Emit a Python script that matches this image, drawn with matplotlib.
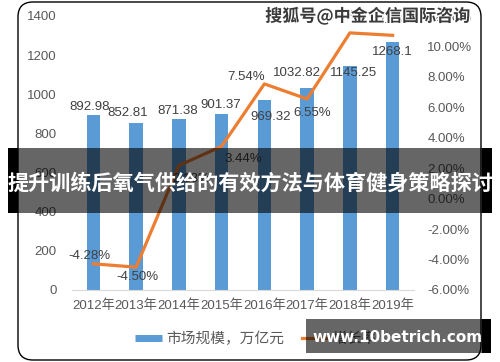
import matplotlib
matplotlib.use("Agg")
import matplotlib.pyplot as plt
from matplotlib.patches import FancyBboxPatch, Rectangle
from matplotlib.lines import Line2D
import matplotlib.patheffects as pe

# ---- data ----
years = ["2012年", "2013年", "2014年", "2015年", "2016年", "2017年", "2018年", "2019年"]
market = [892.98, 852.81, 871.38, 901.37, 969.32, 1032.82, 1145.25, 1268.1]
growth = [-4.28, -4.50, 2.18, 3.44, 7.54, 6.55, 10.89, 10.73]
market_labels = ["892.98", "852.81", "871.38", "901.37", "969.32", "1032.82", "1145.25", "1268.1"]
growth_labels = ["-4.28%", "-4.50%", "2.18%", "3.44%", "7.54%", "6.55%", "10.89%", "10.73%"]
left_ticks = [0, 200, 400, 600, 800, 1000, 1200, 1400]
right_ticks = [-6, -4, -2, 0, 2, 4, 6, 8, 10, 12]
legend_names = ["市场规模，万亿元", "增长率"]
title_text = "提升训练后氧气供给的有效方法与体育健身策略探讨"
watermark_top = "搜狐号@中金企信国际咨询"
watermark_bottom = "www.10betrich.com"

# label offsets (pixels) - styling only
bar_off = [(-4, 8), (-8, 10), (-1, 8), (-1, 9), (6, -17), (-10, 15), (4, -7), (0, -10)]
line_off = [(-4, 8), (1, -10), (12, -14), (22, -13), (-18, 7), (5, -14), (-10, 17), (0, 15)]

NUM = ["Liberation Sans", "Noto Sans CJK SC", "DejaVu Sans"]
CJK = ["Noto Sans CJK SC", "DejaVu Sans"]
BLUE = "#5b9bd5"
ORANGE = "#ed7d31"
TXT = "#595959"
LBL = "#404040"

W, H = 500, 362
fig = plt.figure(figsize=(W / 100, H / 100), dpi=100)
fig.patch.set_facecolor("white")

def px(x0, y0, x1, y1):
    return (x0 / W, 1 - y1 / H, (x1 - x0) / W, (y1 - y0) / H)

ax = fig.add_axes([72 / W, 1 - 290 / H, (414 - 72) / W, (290 - 16) / H])
ax2 = ax.twinx()

x = list(range(len(years)))
ax.bar(x, market, width=0.31, color=BLUE, zorder=2)
ax.set_xlim(-0.5, len(years) - 0.5)
ax.set_ylim(0, 1400)
ax.set_yticks(left_ticks)
ax.set_yticklabels([str(t) for t in left_ticks])
ax.set_xticks(x)
ax.set_xticklabels(years)
for lab in ax.get_xticklabels() + ax.get_yticklabels():
    lab.set_fontfamily(NUM)
    lab.set_fontsize(9.5)
    lab.set_color(TXT)
ax.tick_params(axis="y", length=0, pad=11)
ax.tick_params(axis="x", length=0, pad=7)
for s in ["left", "right", "top"]:
    ax.spines[s].set_visible(False)
    ax2.spines[s].set_visible(False)
ax.spines["bottom"].set_color("#d9d9d9")
ax2.spines["bottom"].set_visible(False)

ax2.plot(x, growth, color=ORANGE, lw=2.3, zorder=3)
ax2.set_ylim(-6, 12)
ax2.set_yticks(right_ticks)
ax2.set_yticklabels([f"{t:.2f}%" for t in right_ticks])
for lab in ax2.get_yticklabels():
    lab.set_fontfamily(NUM)
    lab.set_fontsize(9.5)
    lab.set_color(TXT)
ax2.tick_params(axis="y", length=0, pad=9.5)

for i, (v, t) in enumerate(zip(market, market_labels)):
    ax.annotate(t, (x[i], v), xytext=bar_off[i], textcoords="offset pixels",
                ha="center", va="center", fontsize=9.5, color=LBL, family=NUM, zorder=5)
for i, (v, t) in enumerate(zip(growth, growth_labels)):
    ax2.annotate(t, (x[i], v), xytext=line_off[i], textcoords="offset pixels",
                 ha="center", va="center", fontsize=9.5, color=LBL, family=NUM, zorder=5)

handles = [Line2D([], [], color=BLUE, lw=5, solid_capstyle="butt"),
           Line2D([], [], color=ORANGE, lw=2.3)]
fig.legend(handles, legend_names, loc="center", bbox_to_anchor=(256 / W, 1 - 339 / H),
           ncol=2, frameon=False, handlelength=1.8, handletextpad=0.3, columnspacing=1.2,
           prop={"family": CJK, "size": 10.6}, labelcolor=TXT)

border = FancyBboxPatch((18 / 100, (H - 360) / 100), (481 - 18) / 100, (360 - 2) / 100,
                        boxstyle="round,pad=0,rounding_size=0.15", transform=fig.dpi_scale_trans,
                        facecolor="none", edgecolor="black", lw=1.0, zorder=10)
fig.patches.append(border)

def rect(x0, y0, x1, y1, color, alpha):
    b = px(x0, y0, x1, y1)
    r = Rectangle(b[:2], b[2], b[3], transform=fig.transFigure, facecolor=color,
                  alpha=alpha, edgecolor="none", zorder=20)
    fig.patches.append(r)

rect(18, 148, 482, 213, "black", 0.6)
rect(8, 148, 18, 213, "black", 1.0)
rect(482, 148, 492, 213, "black", 1.0)
rect(306, 319, 482, 353, "black", 0.6)
rect(482, 319, 491, 353, "black", 1.0)

fig.text(250 / W, 1 - 183 / H, title_text, ha="center", va="center", color="white",
         fontsize=15.2, fontweight="bold", family=CJK, zorder=30)
fig.text(398 / W, 1 - 337 / H, watermark_bottom, ha="center", va="center", color="white",
         fontsize=11, fontweight="bold", family=["DejaVu Sans"], zorder=30)
fig.text(368 / W, 1 - 16 / H, watermark_top, ha="center", va="center", color="#3a3a3a",
         fontsize=12.3, fontweight="bold", family=CJK, zorder=30,
         path_effects=[pe.withStroke(linewidth=2, foreground="white")])

fig.savefig("out.png", dpi=100)
